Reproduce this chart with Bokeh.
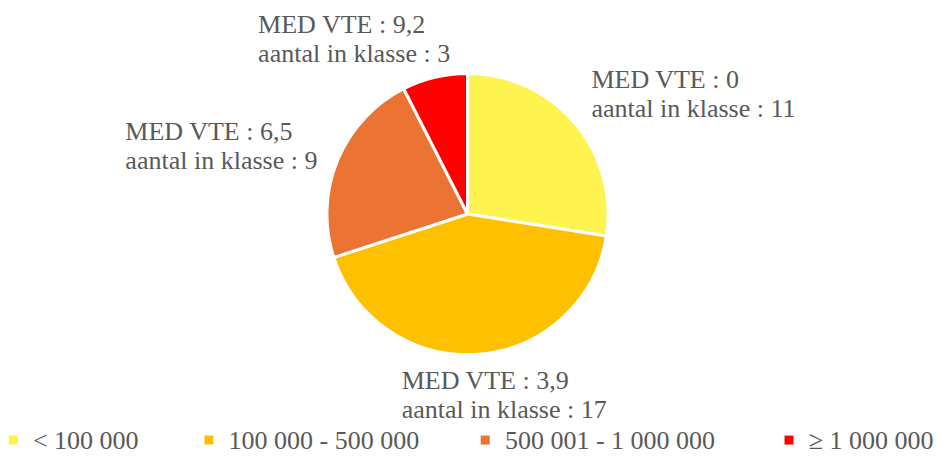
import math
from bokeh.plotting import figure
from bokeh.models import Range1d, ColumnDataSource
from bokeh.core.properties import value
from bokeh.embed import file_html
from bokeh.resources import INLINE

# ---- data ----
categories = ["< 100 000", "100 000 - 500 000", "500 001 - 1 000 000", "\u2265 1 000 000"]
counts = [11, 17, 9, 3]
med_vte = ["0", "3,9", "6,5", "9,2"]
colors = ["#FFF44F", "#FFC000", "#EB7434", "#FF0000"]

# ---- layout: data space is the 952x472 reference frame (y up) ----
W, H = 936, 456
RW, RH = 952, 472
cx, cy, R = 475, 251, 143
label_x = [601, 408, 127, 262]
label_y1 = [390, 79, 336, 447]   # centre of first line
line_gap = 30
legend_marker_x = [13, 212, 493, 802]
legend_text_dx = 20
legend_y = 17
FONT = "Liberation Serif"
FS = "26px"
TXT = "#595959"

total = sum(counts)
start, end = [], []
acc = 0
for c in counts:
    start.append(math.pi / 2 - 2 * math.pi * acc / total)
    acc += c
    end.append(math.pi / 2 - 2 * math.pi * acc / total)

p = figure(width=W, height=H, output_backend="svg", toolbar_location=None,
           x_range=Range1d(0, RW), y_range=Range1d(0, RH), min_border=0)
p.axis.visible = False
p.grid.visible = False
p.outline_line_color = None
p.background_fill_color = "white"

src = ColumnDataSource(dict(x=[cx] * 4, y=[cy] * 4, s=start, e=end, color=colors))
p.wedge(x="x", y="y", radius=R, start_angle="s", end_angle="e", direction="clock",
        fill_color="color", line_color="white", line_width=3, source=src)

l1 = ["MED VTE : " + m for m in med_vte]
l2 = ["aantal in klasse : " + str(c) for c in counts]
p.text(x=label_x, y=label_y1, text=l1, text_font=value(FONT), text_font_size=FS,
       text_color=TXT, text_align="left", text_baseline="middle")
p.text(x=label_x, y=[y - line_gap for y in label_y1], text=l2, text_font=value(FONT),
       text_font_size=FS, text_color=TXT, text_align="left", text_baseline="middle")

# legend
p.scatter(x=legend_marker_x, y=[legend_y] * 4, marker="square", size=9,
          fill_color=colors, line_color=None)
p.text(x=[x + legend_text_dx for x in legend_marker_x], y=[legend_y] * 4, text=categories,
       text_font=value(FONT), text_font_size=FS, text_color=TXT,
       text_align="left", text_baseline="middle")

open("out.html", "w").write(file_html(p, INLINE))
